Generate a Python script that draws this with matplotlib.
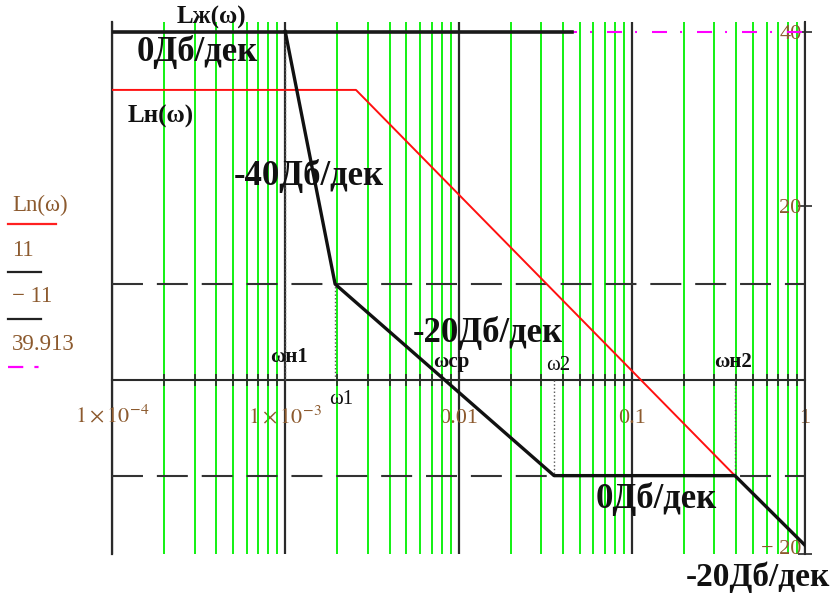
import numpy as np
import matplotlib
matplotlib.use("Agg")
import matplotlib.pyplot as plt
from matplotlib.lines import Line2D
from matplotlib.ticker import FixedLocator, LogLocator, NullFormatter

plt.rcParams['font.family'] = ['Liberation Serif', 'DejaVu Serif']
plt.rcParams['mathtext.fontset'] = 'stix'
plt.rcParams['lines.scale_dashes'] = False

# desired LAFC Lж(ω): flat part and broken line
w_flat = [1e-4, 0.0452]
L_flat = [40, 40]
w_zh = [1e-3, 1.94e-3, 0.0356, 0.394, 1.0]
L_zh = [40, 11, -11, -11, -19.0]

# unchanged system Lн(ω)
w_n = [1e-4, 2.56e-3, 0.394]
L_n = [33.3, 33.3, -11]

# horizontal reference levels
lvl_hi = 11
lvl_lo = -11
lvl_top = 39.913

# characteristic frequencies and their dotted drop lines
w_drop = [1e-3, 1.94e-3, 0.0356, 0.394]
L_drop = [40, 11, -11, -11]

x_ticks = [1e-4, 1e-3, 1e-2, 1e-1, 1]
x_labels = [r'$1\times10^{-4}$', r'$1\times10^{-3}$', '0.01', '0.1', '1']
y_ticks = [-20, 20, 40]
y_labels = ['\u2212 20', '20', '40']

# bold annotations: text, x, y, size
notes = [
    ('L\u0436(\u03c9)', 3.73e-4, 41.6, 18),
    ('0\u0414\u0431/\u0434\u0435\u043a', 3.1e-4, 37.7, 25),
    ('L\u043d(\u03c9)', 1.92e-4, 30.3, 18),
    ('-40\u0414\u0431/\u0434\u0435\u043a', 1.37e-3, 23.4, 25),
    ('-20\u0414\u0431/\u0434\u0435\u043a', 0.0148, 5.4, 25),
    ('0\u0414\u0431/\u0434\u0435\u043a', 0.138, -13.7, 25),
    ('-20\u0414\u0431/\u0434\u0435\u043a', 0.536, -22.7, 24),
]
marks = [
    ('\u03c9\u043d1', 1.05e-3, 2.6, 15, 'bold'),
    ('\u03c91', 2.1e-3, -2.3, 15, 'normal'),
    ('\u03c9\u0441\u0440', 9.06e-3, 2.1, 15, 'bold'),
    ('\u03c92', 0.0375, 1.6, 15, 'normal'),
    ('\u03c9\u043d2', 0.384, 2.0, 15, 'bold'),
]

num_color = '#8c5a2e'
W, H = 835, 595

fig = plt.figure(figsize=(W / 100, H / 100), dpi=100)
ax = fig.add_axes([112 / W, 1 - 554 / H, 693 / W, 532 / H])
ax.set_xscale('log')
ax.set_xlim(1e-4, 1)
ax.set_ylim(-20, 41.1)

# log grid: black decades, green subdivisions
ax.xaxis.set_major_locator(FixedLocator(x_ticks))
ax.xaxis.set_minor_locator(LogLocator(base=10, subs=np.arange(2, 10)))
ax.xaxis.set_minor_formatter(NullFormatter())
ax.grid(which='minor', axis='x', color='#00f000', lw=1.3, zorder=0)
ax.grid(which='major', axis='x', color='#2a2a2a', lw=1.6, zorder=0)
ax.axvline(1e-4, color='#2a2a2a', lw=1.6, clip_on=False, zorder=0)

# crossed axes
ax.spines['top'].set_visible(False)
ax.spines['right'].set_visible(False)
ax.spines['left'].set_position(('axes', 1.0))
ax.spines['bottom'].set_position(('data', 0))
for s in ('left', 'bottom'):
    ax.spines[s].set_color('#2a2a2a')
    ax.spines[s].set_linewidth(1.5)

ax.set_xticks(x_ticks, x_labels, va='baseline')
ax.tick_params(axis='x', which='both', direction='inout', length=8, width=1.2,
               color='#2a2a2a', pad=27, labelsize=16, labelcolor=num_color)
ax.set_yticks(y_ticks, y_labels)
ax.tick_params(axis='y', direction='inout', length=10, width=1.2,
               color='#2a2a2a', pad=-2.5, labelsize=16, labelcolor=num_color)
# the lowest value label rests on its tick, clear of the note beneath it
ax.get_yticklabels()[0].set_va('baseline')

# traces
ax.axhline(lvl_top, color='#ff00ff', lw=1.5, ls=(0, (10.8, 9.4, 1.4, 10.8)), zorder=2)
ax.axhline(lvl_hi, color='#333333', lw=1.5, ls=(0, (22.3, 10)), zorder=2)
ax.axhline(lvl_lo, color='#333333', lw=1.5, ls=(0, (22.3, 10)), zorder=2)
ax.plot(w_n, L_n, color='#ff1010', lw=1.4, zorder=3)
ax.plot(w_flat, L_flat, color='#1a1a1a', lw=2.6, zorder=4)
ax.plot(w_zh, L_zh, color='#111111', lw=2.4, zorder=4)
for w, L in zip(w_drop, L_drop):
    ax.plot([w, w], [0, L], color='#555555', lw=1.0, ls=':', zorder=3)

for t, x, y, fs in notes:
    ax.text(x, y, t, fontsize=fs, fontweight='bold', ha='center', va='center',
            color='#111111', zorder=5)
for t, x, y, fs, fw in marks:
    ax.text(x, y, t, fontsize=fs, fontweight=fw, ha='center', va='center',
            color='#111111', zorder=5)

# legend column on the left
legend_items = [
    ('Ln(\u03c9)', 205, 224, '#ff2020', '-'),
    ('11', 250, 272, '#222222', '-'),
    ('\u2212 11', 297, 319, '#222222', '-'),
    ('39.913', 344, 367, '#ff00ff', (0, (11, 8, 3, 20))),
]
for t, ty, ly, c, ls in legend_items:
    fig.text(12 / W, 1 - ty / H, t, fontsize=16.5, color=num_color, va='center', ha='left')
    fig.add_artist(Line2D([8 / W, (56 if t.startswith('L') else 41) / W],
                          [1 - ly / H, 1 - ly / H], transform=fig.transFigure,
                          color=c, lw=1.6, ls=ls))

fig.savefig('out.png', dpi=100)
